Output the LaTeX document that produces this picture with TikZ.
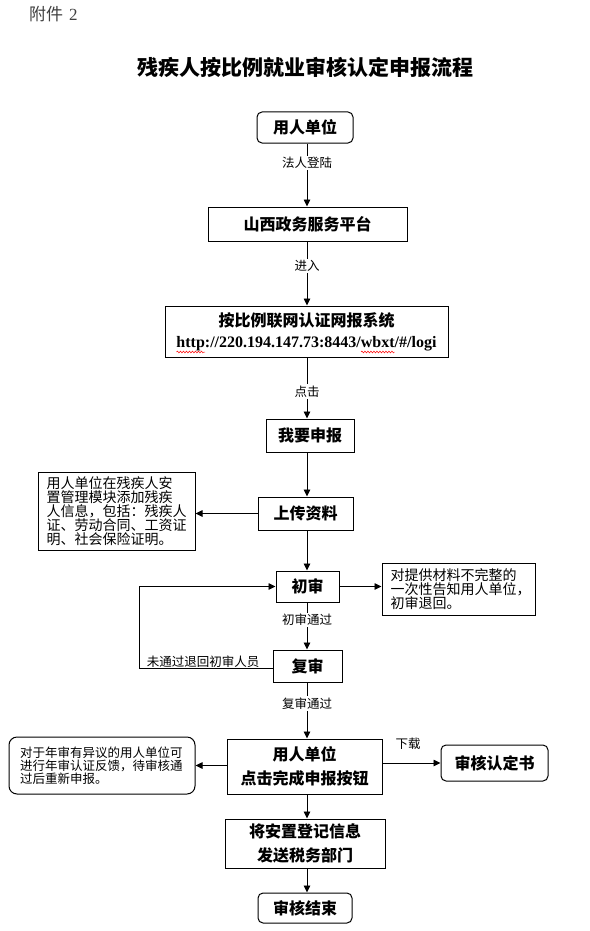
\documentclass[tikz,border=0pt]{standalone}
\usepackage{fontspec}
\setmainfont{Noto Sans CJK SC}
\newfontfamily\urlfont{Liberation Serif}
\usetikzlibrary{arrows.meta,decorations.pathmorphing}
\begin{document}
\begin{tikzpicture}[x=1pt,y=-1pt,
  box/.style={draw,line width=1pt,inner sep=0pt,align=center,font=\fontsize{16}{24}\selectfont\bfseries},
  rbox/.style={box,rounded corners=5pt},
  note/.style={draw,line width=1pt,inner sep=0pt,align=left},
  lbl/.style={fill=white,inner sep=1.5pt,font=\fontsize{12.5}{13}\selectfont},
  ln/.style={line width=0.9pt},
  wav/.style={red,line width=0.5pt,decorate,decoration={snake,amplitude=0.9pt,segment length=3pt}},
  arr/.style={line width=0.9pt,-{Triangle[length=7pt,width=6.5pt]}}]
\useasboundingbox (0,0) rectangle (589,931);
\coordinate (spine) at (307,0);
\node[anchor=west,inner sep=0pt,text=black!75,font=\fontsize{17}{17}\selectfont] (att) at (29,14) {附件\hspace{6pt}{\urlfont 2}};
\node[inner sep=0pt,font=\fontsize{21}{21}\selectfont\bfseries] (title) at (305,67) {残疾人按比例就业审核认定申报流程};

\node[rbox,minimum width=96pt,minimum height=31pt] (u1) at (305,127.5) {用人单位};
\node[box,minimum width=199pt,minimum height=34pt] (p2) at (307.5,224) {山西政务服务平台};
\node[box,minimum width=283pt,minimum height=51pt,font=\fontsize{16}{21}\selectfont\bfseries] (p3) at (306.5,331.5) {按比例联网认证网报系统\\{\urlfont http://220.194.147.73:8443/wbxt/\#/logi}};
\draw[wav] (176.5,352) -- (205,352);
\draw[wav] (361,352) -- (394.5,352);
\node[box,minimum width=88pt,minimum height=33pt] (p4) at (310,435.5) {我要申报};
\node[box,minimum width=95pt,minimum height=33pt] (p5) at (305.5,513.5) {上传资料};
\node[note,minimum width=157pt,minimum height=78pt,font=\fontsize{14}{13}\selectfont] (la) at (116.5,511) {\parbox{140pt}{用人单位在残疾人安\\置管理模块添加残疾\\人信息，包括：残疾人\\证、劳动合同、工资证\\明、社会保险证明。}};
\node[box,minimum width=63pt,minimum height=31pt] (c1) at (307.5,586.5) {初审};
\node[note,minimum width=153pt,minimum height=52pt,font=\fontsize{14}{12.5}\selectfont] (ra) at (458.5,589) {\parbox{136pt}{对提供材料不完整的\\一次性告知用人单位，\\初审退回。}};
\node[box,minimum width=69pt,minimum height=32pt] (c2) at (307.5,666) {复审};
\node[box,minimum width=155pt,minimum height=55pt] (m) at (304.5,766.5) {用人单位\\点击完成申报按钮};
\node[note,rounded corners=8pt,minimum width=186pt,minimum height=57pt,font=\fontsize{12.5}{13}\selectfont] (lb) at (102,765.5) {\parbox{164pt}{对于年审有异议的用人单位可\\进行年审认证反馈，待审核通\\过后重新申报。}};
\node[rbox,minimum width=107pt,minimum height=36pt] (cert) at (494.5,763) {审核认定书};
\node[box,minimum width=160pt,minimum height=49pt] (send) at (305,843.5) {将安置登记信息\\发送税务部门};
\node[rbox,minimum width=94pt,minimum height=30pt] (fin) at (305,908) {审核结束};

\draw[arr] (u1.south -| spine) -- node[lbl,pos=0.31] (l1) {法人登陆} (p2.north -| spine);
\draw[arr] (p2.south -| spine) -- node[lbl,pos=0.38] (l2) {进入} (p3.north -| spine);
\draw[arr] (p3.south -| spine) -- node[lbl,pos=0.56] (l3) {点击} (p4.north -| spine);
\draw[arr] (p4.south -| spine) -- (p5.north -| spine);
\draw[arr] (p5.west) -- (p5.west -| la.east);
\draw[arr] (p5.south -| spine) -- (c1.north -| spine);
\draw[arr] (c1.east) -- (c1.east -| ra.west);
\draw[arr] (c1.south -| spine) -- node[lbl,pos=0.375] (l4) {初审通过} (c2.north -| spine);
\coordinate (lp) at (139,668);
\draw[arr] (c2.west |- lp) -- (lp) |- (c1.west);
\node[anchor=south,inner sep=0.5pt,font=\fontsize{12.5}{13}\selectfont] (l5) at (203,668) {未通过退回初审人员};
\draw[arr] (c2.south -| spine) -- node[lbl,pos=0.37] (l6) {复审通过} (m.north -| spine);
\draw[arr] (m.west |- lb.east) -- (lb.east);
\draw[arr] (m.east |- cert.west) -- (cert.west);
\node[inner sep=0pt,font=\fontsize{12.5}{13}\selectfont] (l7) at (408,744) {下载};
\draw[arr] (m.south -| spine) -- (send.north -| spine);
\draw[arr] (send.south -| spine) -- (fin.north -| spine);
\end{tikzpicture}
\end{document}
